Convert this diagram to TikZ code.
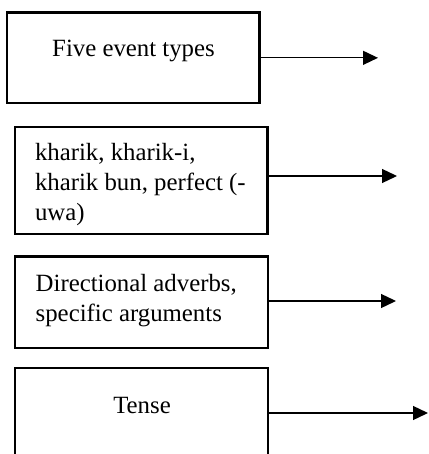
\documentclass[tikz,border=0pt]{standalone}
\usepackage{fontspec}
\setmainfont{Liberation Serif}
\usetikzlibrary{arrows.meta}
\begin{document}
\begin{tikzpicture}[x=0.5pt,y=-0.5pt,
  boxnode/.style={draw=black,line width=1.4pt,rectangle,inner sep=0pt,outer sep=0pt},
  txtnode/.style={inner sep=0pt,outer sep=0pt,font=\fontsize{12.4}{15}\selectfont,align=left},
  conn/.style={draw=black,line width=0.65pt,-{Triangle[length=7.5pt,width=7pt]}}]
\useasboundingbox (0,0) rectangle (428,454);
\clip (0,0) rectangle (428,454);
% boxes
\node[boxnode,minimum width=126.25pt,minimum height=45.15pt] (b1) at (133.25,57.85) {};
\node[boxnode,minimum width=126.35pt,minimum height=53.5pt] (b2) at (141.35,180.5) {};
\node[boxnode,minimum width=126.5pt,minimum height=45.65pt] (b3) at (141.5,302.35) {};
\node[boxnode,minimum width=126.5pt,minimum height=45pt] (b4) at (141.5,413) {};
% texts
\node[txtnode,anchor=base] (t1) at (133.5,57) {Five event types};
\node[txtnode,anchor=base west] (t2) at (35,220.7) {kharik, kharik-i,\\kharik bun, perfect (-\\uwa)};
\node[txtnode,anchor=base west] (t3) at (35.7,321.7) {Directional adverbs,\\specific arguments};
\node[txtnode,anchor=base] (t4) at (142,413.3) {Tense};
% arrow ends
\coordinate (e1) at (378,57.85);
\coordinate (e2) at (397,176);
\coordinate (e3) at (396,301);
\coordinate (e4) at (428,413);
% connectors
\draw[conn] (b1.east) -- (e1);
\draw[conn] (b2.east |- e2) -- (e2);
\draw[conn] (b3.east |- e3) -- (e3);
\draw[conn] (b4.east) -- (e4);
\end{tikzpicture}
\end{document}
